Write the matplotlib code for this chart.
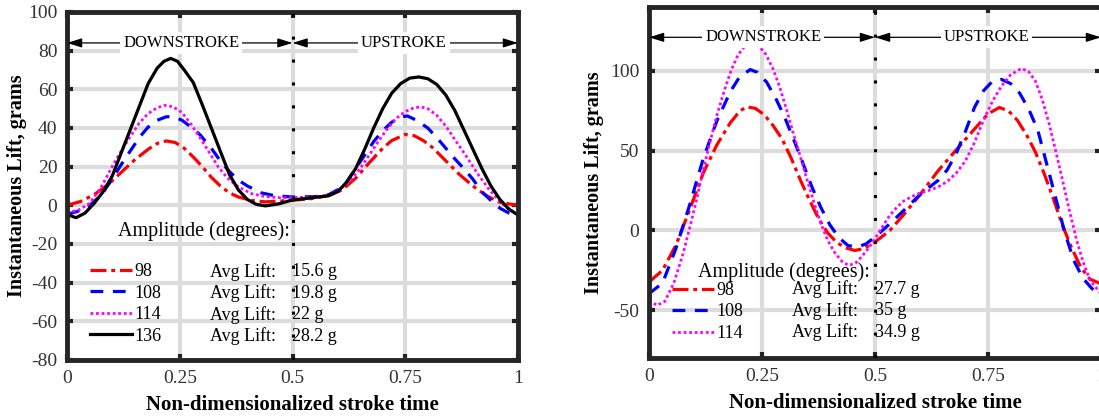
import matplotlib
matplotlib.use('Agg')
import matplotlib.pyplot as plt

plt.rcParams['font.family'] = ['Liberation Serif', 'DejaVu Serif']
plt.rcParams['axes.unicode_minus'] = False

# ---- left panel data (stroke time, lift in grams) ----
t98_a = [0, 0.03, 0.06, 0.09, 0.12, 0.15, 0.18, 0.2, 0.22, 0.24, 0.26, 0.28, 0.3, 0.32,
         0.34, 0.36, 0.38, 0.41, 0.44, 0.47, 0.5, 0.54, 0.58, 0.61, 0.64, 0.67, 0.7, 0.72,
         0.75, 0.77, 0.79, 0.81, 0.84, 0.87, 0.9, 0.93, 0.96, 1.0]
v98_a = [0, 2, 5.5, 10.5, 17, 23.5, 29, 32, 33.3, 32.5, 29.5, 25, 20, 14.5,
         10, 6.5, 4.3, 2.5, 1.8, 2.2, 2.6, 3.4, 5, 8, 14, 22, 29.5, 33.5,
         36.7, 36, 33.5, 30, 23, 16, 10, 5, 1.5, 0]

t108_a = [0, 0.025, 0.05, 0.075, 0.1, 0.12, 0.14, 0.16, 0.18, 0.2, 0.22, 0.236, 0.255,
          0.275, 0.295, 0.32, 0.34, 0.36, 0.38, 0.4, 0.43, 0.46, 0.5, 0.55, 0.58, 0.6,
          0.62, 0.64, 0.66, 0.68, 0.7, 0.72, 0.74, 0.755, 0.775, 0.8, 0.82, 0.84, 0.86,
          0.88, 0.9, 0.92, 0.94, 0.96, 0.98, 1.0]
v108_a = [-4.7, -3, 0, 5, 13.5, 21, 28, 35, 40.5, 44, 45.8, 45.9, 44,
          40.5, 36.5, 29.5, 23, 17.5, 13, 10, 6.5, 5, 4.3, 4.5, 5.5, 8,
          12, 19, 26, 33, 38.5, 43, 45.8, 46.2, 44, 40, 35, 29.5, 24,
          19, 13.5, 7, 2.5, -1.5, -4, -5.5]

t114_a = [0, 0.025, 0.05, 0.075, 0.1, 0.12, 0.14, 0.16, 0.18, 0.2, 0.217, 0.235, 0.255,
          0.275, 0.295, 0.315, 0.335, 0.355, 0.38, 0.41, 0.44, 0.47, 0.5, 0.54, 0.58, 0.6,
          0.625, 0.65, 0.67, 0.69, 0.71, 0.73, 0.75, 0.77, 0.785, 0.8, 0.82, 0.84, 0.86,
          0.885, 0.91, 0.935, 0.96, 0.98, 1.0]
v114_a = [-3.8, -2.5, 1, 9, 20, 28, 35.5, 42.5, 47.5, 50.5, 51.7, 51, 48,
          42, 35, 27.5, 20, 14.3, 9.5, 6, 4.5, 4, 4, 4.2, 5, 7.5,
          12, 19, 26, 33, 39.5, 45, 48.5, 50.5, 50.9, 50, 46.5, 41, 34,
          25.5, 16.5, 8.5, 2, -2, -4.7]

t136_a = [0, 0.02, 0.04, 0.06, 0.08, 0.1, 0.12, 0.14, 0.16, 0.18, 0.2, 0.215, 0.23, 0.245,
          0.26, 0.28, 0.3, 0.32, 0.34, 0.36, 0.38, 0.4, 0.42, 0.44, 0.47, 0.5, 0.54, 0.58,
          0.6, 0.62, 0.64, 0.66, 0.68, 0.7, 0.72, 0.74, 0.76, 0.78, 0.8, 0.82, 0.84, 0.86,
          0.88, 0.9, 0.92, 0.94, 0.96, 0.98, 1.0]
v136_a = [-4.7, -6.4, -4, 1, 7, 15, 27, 39, 51, 63, 71, 74.5, 76, 74.5,
          70, 63.5, 52, 40, 28, 16, 8, 3, 0.5, -0.3, 0.8, 2.8, 3.8, 5,
          7, 12, 19, 29, 40, 50, 58, 63, 65.8, 66.4, 65.5, 62.5, 57, 49,
          39, 29, 19, 10, 3, -2, -5]

# ---- right panel data ----
t98_b = [0, 0.03, 0.06, 0.09, 0.12, 0.15, 0.18, 0.2, 0.215, 0.235, 0.255, 0.275, 0.295,
         0.315, 0.335, 0.355, 0.375, 0.395, 0.415, 0.435, 0.455, 0.475, 0.5, 0.533, 0.564,
         0.6, 0.64, 0.68, 0.72, 0.75, 0.775, 0.795, 0.815, 0.835, 0.855, 0.875, 0.895,
         0.915, 0.935, 0.955, 0.975, 1.0]
v98_b = [-32.4, -25, -9, 13, 36, 53.5, 67.5, 74.5, 77.4, 76.5, 72.5, 65.5, 57,
         45, 31.5, 19, 7.5, -1.5, -7.5, -11, -12.6, -11.5, -7.3, 0, 10,
         22.5, 37.5, 50.5, 63.5, 73, 77, 75, 69, 60, 49, 35, 19.5,
         3, -11, -23, -30.5, -33.5]

t108_b = [0, 0.03, 0.06, 0.09, 0.12, 0.15, 0.18, 0.2, 0.224, 0.24, 0.26, 0.28, 0.3, 0.32,
          0.34, 0.36, 0.38, 0.4, 0.42, 0.44, 0.46, 0.48, 0.5, 0.533, 0.564, 0.6, 0.64, 0.66,
          0.68, 0.7, 0.72, 0.74, 0.76, 0.78, 0.8, 0.82, 0.84, 0.86, 0.88, 0.9, 0.92, 0.94,
          0.96, 0.98, 1.0]
v108_b = [-39.7, -33, -11, 16, 45, 68.5, 87, 96, 100.8, 99, 93, 83, 71, 57,
          42.5, 27.5, 14.5, 3.5, -4.5, -9.5, -10.5, -8.5, -4.2, 4.2, 12.6, 22.5, 31.4, 38,
          48.5, 62, 77, 87.5, 93.5, 94.6, 92, 86, 76, 63, 41.5, 20, -1.5, -19,
          -30, -36.5, -39.7]

t114_b = [0, 0.018, 0.035, 0.055, 0.075, 0.09, 0.105, 0.12, 0.136, 0.15, 0.167, 0.182,
          0.197, 0.212, 0.228, 0.243, 0.258, 0.274, 0.289, 0.304, 0.319, 0.335, 0.35,
          0.365, 0.38, 0.395, 0.411, 0.427, 0.442, 0.457, 0.472, 0.486, 0.5, 0.517, 0.533,
          0.55, 0.564, 0.58, 0.6, 0.625, 0.645, 0.663, 0.68, 0.7, 0.72, 0.74, 0.76, 0.78,
          0.8, 0.824, 0.84, 0.855, 0.87, 0.885, 0.9, 0.915, 0.93, 0.946, 0.96, 0.976, 1.0]
v114_b = [-44, -47, -44.5, -33, -15, 1.5, 19, 38, 56.5, 72, 88, 100.5,
          110, 115.5, 117.6, 115.5, 110.5, 101.5, 90, 76, 61, 46, 31.4,
          17.5, 4.5, -6, -14, -19.5, -22, -20.5, -16, -11, -5.2, 2.5, 9.5,
          15, 18.5, 21, 23.5, 25.5, 28, 31.4, 36, 43.5, 55, 69, 81, 90.5,
          97.5, 101.5, 99.5, 93.5, 82, 67, 49.5, 31.4, 12.5, -6, -19.5, -31.4, -39.7]

amps = ['98', '108', '114', '136']
avg_a = ['15.6 g', '19.8 g', '22 g', '28.2 g']
avg_b = ['27.7 g', '35 g', '34.9 g']

styles = [dict(color='red', ls=(0, (5, 1.5, 1.2, 1.5)), lw=2.3),
          dict(color='blue', ls=(0, (4, 3)), lw=2.3),
          dict(color='magenta', ls=(0, (1, 1)), lw=2.0),
          dict(color='black', ls='-', lw=2.3)]

xticks = [0, 0.25, 0.5, 0.75, 1]
xticklabels = ['0', '0.25', '0.5', '0.75', '1']

fig = plt.figure(figsize=(10.99, 4.17), dpi=100)
ax1 = fig.add_axes([67 / 1099, 57 / 417, 451 / 1099, 348 / 417])
ax2 = fig.add_axes([649 / 1099, 59 / 417, 452 / 1099, 351 / 417])


def style_axes(ax, yticks, ylim, ypad):
    ax.set_xlim(0, 1)
    ax.set_ylim(*ylim)
    ax.set_xticks(xticks)
    ax.set_xticklabels(xticklabels)
    ax.set_yticks(yticks)
    ax.grid(True, color='#dcdcdc', lw=3.0, zorder=0)
    ax.set_axisbelow(True)
    ax.tick_params(direction='in', length=4, width=3, color='#222222', top=True, right=True,
                   labelsize=14, labelcolor='#333333', pad=7)
    for s in ax.spines.values():
        s.set_linewidth(3.5)
        s.set_color('#262626')
    ax.set_xlabel('Non-dimensionalized stroke time', fontsize=15, fontweight='bold', labelpad=6)
    ax.set_ylabel('Instantaneous Lift, grams', fontsize=14.5, fontweight='bold', labelpad=ypad)
    ax.axvline(0.5, color='black', lw=2.2, ls=(0, (1, 6.5)), zorder=3)


def stroke_labels(ax, y):
    arr = dict(arrowstyle='<|-|>,head_length=0.9,head_width=0.28', color='black', lw=0.9,
               shrinkA=0, shrinkB=0)
    ax.annotate('', xy=(0, y), xytext=(0.5, y), arrowprops=arr, zorder=4)
    ax.annotate('', xy=(0.5, y), xytext=(1, y), arrowprops=arr, zorder=4)
    bb = dict(facecolor='white', edgecolor='none', pad=2)
    ax.text(0.253, y, 'DOWNSTROKE', ha='center', va='center', fontsize=12, bbox=bb, zorder=5)
    ax.text(0.747, y, 'UPSTROKE', ha='center', va='center', fontsize=12, bbox=bb, zorder=5)


def legend_block(ax, lines, labels, avgs, title_xy, leg_top, avg_top, step):
    ax.text(title_xy[0], title_xy[1], 'Amplitude (degrees):', transform=ax.transAxes,
            fontsize=14.5, va='center', ha='left')
    ax.legend(lines, labels, loc='upper left', bbox_to_anchor=(0.051, leg_top), frameon=False,
              fontsize=13, handlelength=2.3, handletextpad=0.15, labelspacing=0.25,
              borderpad=0, borderaxespad=0)
    for i, a in enumerate(avgs):
        yy = avg_top - i * step
        ax.text(0.317, yy, 'Avg Lift:', transform=ax.transAxes, fontsize=13, va='center')
        ax.text(0.500, yy, a, transform=ax.transAxes, fontsize=13, va='center')


# left panel
style_axes(ax1, list(range(-80, 101, 20)), (-80, 100), 1)
la = []
for t, v, st in zip([t98_a, t108_a, t114_a, t136_a], [v98_a, v108_a, v114_a, v136_a], styles):
    la.append(ax1.plot(t, v, zorder=2, **st)[0])
stroke_labels(ax1, 84)
legend_block(ax1, la, amps, avg_a, (0.113, 0.371), 0.2785, 0.253, 0.0615)

# right panel
style_axes(ax2, [-50, 0, 50, 100], (-80, 140), 4)
lb = []
for t, v, st in zip([t98_b, t108_b, t114_b], [v98_b, v108_b, v114_b], styles):
    lb.append(ax2.plot(t, v, zorder=2, **st)[0])
stroke_labels(ax2, 121)
legend_block(ax2, lb, amps[:3], avg_b, (0.109, 0.245), 0.2166, 0.196, 0.061)

fig.savefig('out.png', dpi=100)
